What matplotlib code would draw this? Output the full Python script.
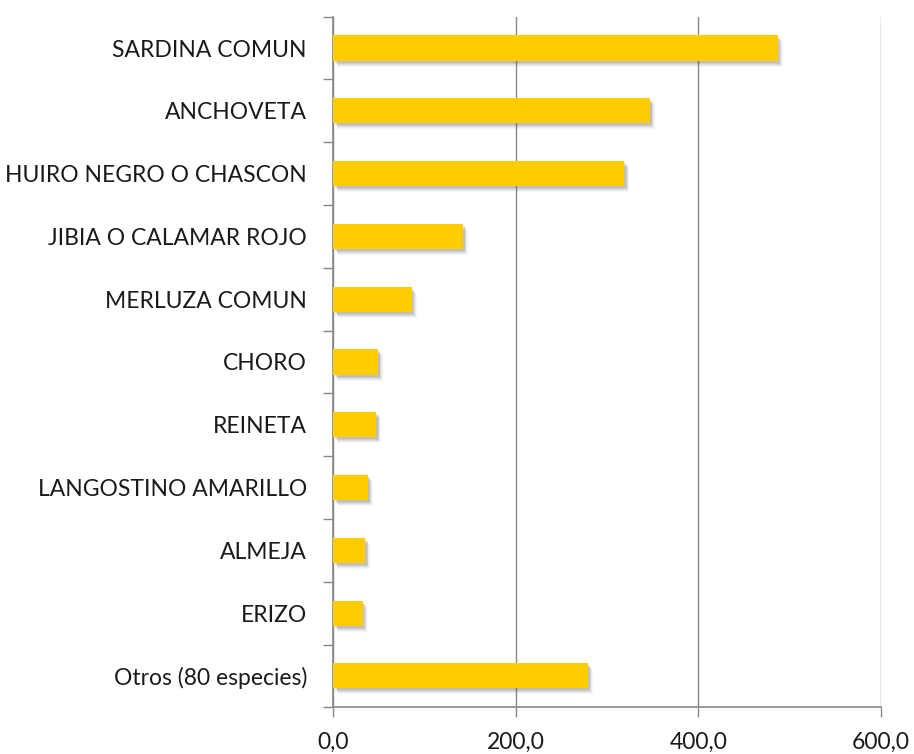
import matplotlib
matplotlib.use('Agg')
import matplotlib.pyplot as plt
import matplotlib.transforms as mtrans
from matplotlib.ticker import FuncFormatter

# especies (de arriba hacia abajo) y valores
especies = ['SARDINA COMUN', 'ANCHOVETA', 'HUIRO NEGRO O CHASCON',
            'JIBIA O CALAMAR ROJO', 'MERLUZA COMUN', 'CHORO', 'REINETA',
            'LANGOSTINO AMARILLO', 'ALMEJA', 'ERIZO', 'Otros (80 especies)']
valores = [487, 347, 319, 142, 86, 49, 47, 38, 35, 32, 279]
xticks = [0, 200, 400, 600]

plt.rcParams['font.family'] = ['Lato', 'DejaVu Sans']

fig = plt.figure(figsize=(9.14, 7.54), dpi=100)
ax = fig.add_axes([0.3647, 0.0619, 0.599, 0.916])

pos = list(range(len(especies)))
# sombra difusa: varias capas grises desplazadas
for k, a in [(6, 0.05), (5, 0.07), (4, 0.09), (3, 0.11), (2, 0.12)]:
    off = mtrans.ScaledTranslation(k * 0.8 / 100, -k / 100, fig.dpi_scale_trans)
    ax.barh(pos, valores, height=0.4, color='#555555', alpha=a, zorder=2,
            transform=ax.transData + off)
ax.barh(pos, valores, height=0.4, color='#FFCC00', zorder=3)

ax.set_ylim(len(especies) - 0.5, -0.5)
ax.set_xlim(0, 600)
ax.set_yticks(pos)
ax.set_yticklabels(especies)
ax.set_yticks([p + 0.5 for p in [-1] + pos], minor=True)
ax.tick_params(axis='y', which='major', length=0, pad=19, labelsize=16.5, labelcolor='#1a1a1a')
ax.tick_params(axis='y', which='minor', length=7, width=1, color='#888888')
ax.set_xticks(xticks)
ax.xaxis.set_major_formatter(FuncFormatter(lambda v, p: f'{v:.1f}'.replace('.', ',')))
ax.tick_params(axis='x', length=7, width=1, color='#888888', labelsize=16.5, labelcolor='#1a1a1a', pad=11)

ax.grid(axis='x', color='#888888', linewidth=1, zorder=0)
ax.set_axisbelow(True)
for s in ['top', 'right']:
    ax.spines[s].set_visible(False)
for s in ['left', 'bottom']:
    ax.spines[s].set_color('#888888')
    ax.spines[s].set_linewidth(1.2)

fig.savefig('out.png', dpi=100)
